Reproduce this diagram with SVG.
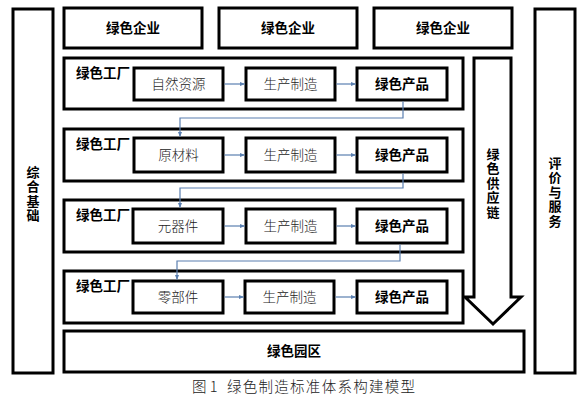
<svg xmlns="http://www.w3.org/2000/svg" width="581" height="406" viewBox="0 0 581 406">
<style>
.box{fill:#fff;stroke:#000;stroke-width:3}
.ibox{fill:#fff;stroke:#000;stroke-width:3}
.b{font-family:"Noto Sans CJK SC","Liberation Sans",sans-serif;font-weight:bold;font-size:13.5px;fill:#000}
.v{font-family:"Noto Sans CJK SC","Liberation Sans",sans-serif;font-weight:bold;font-size:13px;fill:#000;writing-mode:vertical-rl;letter-spacing:1.5px}
.r{font-family:"Noto Sans CJK SC","Liberation Sans",sans-serif;font-weight:300;font-size:13.5px;fill:#222}
.c{fill:none;stroke:#5a7fb0;stroke-width:1.2}
.cap{font-family:"Noto Sans CJK SC",serif;font-weight:300;font-size:14.5px;fill:#222}
</style>
<defs>
<marker id="ah" viewBox="0 0 10 10" refX="9" refY="5" markerWidth="5" markerHeight="5" orient="auto" markerUnits="userSpaceOnUse">
<path d="M0,1 L10,5 L0,9 z" fill="#5a7fb0"/>
</marker>
</defs>
<rect width="581" height="406" fill="#fff"/>
<g id="base"><rect class="box" x="13" y="9" width="40" height="364"/>
<text class="v" x="33" y="165.5">综合基础</text></g>
<g id="eval"><rect class="box" x="535" y="9" width="40" height="364"/>
<text class="v" x="555" y="156.5">评价与服务</text></g>
<g id="ent1"><rect class="box" x="64" y="8" width="138" height="40"/><text class="b" x="133" y="33" text-anchor="middle">绿色企业</text></g>
<g id="ent2"><rect class="box" x="219" y="8" width="138" height="40"/><text class="b" x="288" y="33" text-anchor="middle">绿色企业</text></g>
<g id="ent3"><rect class="box" x="374" y="8" width="138" height="40"/><text class="b" x="443" y="33" text-anchor="middle">绿色企业</text></g>
<g id="chain"><polygon class="box" points="474,58 511,58 511,297 521,297 493,324 465,297 474,297"/>
<text class="v" x="493" y="147.5">绿色供应链</text></g>
<g id="f1"><rect class="box" x="64" y="58" width="399" height="51"/><text class="b" x="76" y="78">绿色工厂</text>
<rect class="ibox" x="134" y="68" width="89" height="32"/><text class="r" x="178.5" y="89" text-anchor="middle">自然资源</text>
<rect class="ibox" x="246" y="68" width="89" height="32"/><text class="r" x="290.5" y="89" text-anchor="middle">生产制造</text>
<rect class="ibox" x="357" y="68" width="90" height="32"/><text class="b" x="402" y="89" text-anchor="middle">绿色产品</text></g>
<g id="f2"><rect class="box" x="64" y="129" width="399" height="52"/><text class="b" x="76" y="149">绿色工厂</text>
<rect class="ibox" x="134" y="138" width="89" height="34"/><text class="r" x="178.5" y="160" text-anchor="middle">原材料</text>
<rect class="ibox" x="246" y="138" width="89" height="34"/><text class="r" x="290.5" y="160" text-anchor="middle">生产制造</text>
<rect class="ibox" x="357" y="138" width="90" height="34"/><text class="b" x="402" y="160" text-anchor="middle">绿色产品</text></g>
<g id="f3"><rect class="box" x="64" y="200" width="399" height="52"/><text class="b" x="76" y="220">绿色工厂</text>
<rect class="ibox" x="133" y="209" width="90" height="34"/><text class="r" x="178" y="231" text-anchor="middle">元器件</text>
<rect class="ibox" x="246" y="209" width="89" height="34"/><text class="r" x="290.5" y="231" text-anchor="middle">生产制造</text>
<rect class="ibox" x="357" y="209" width="90" height="34"/><text class="b" x="402" y="231" text-anchor="middle">绿色产品</text></g>
<g id="f4"><rect class="box" x="64" y="271" width="399" height="52"/><text class="b" x="76" y="291">绿色工厂</text>
<rect class="ibox" x="133" y="281" width="90" height="32"/><text class="r" x="178" y="302" text-anchor="middle">零部件</text>
<rect class="ibox" x="245" y="281" width="89" height="32"/><text class="r" x="289.5" y="302" text-anchor="middle">生产制造</text>
<rect class="ibox" x="357" y="281" width="90" height="32"/><text class="b" x="402" y="302" text-anchor="middle">绿色产品</text></g>
<g id="park"><rect class="box" x="64" y="331" width="460" height="41"/><text class="b" x="294" y="356" text-anchor="middle">绿色园区</text></g>
<g id="connectors">
<path class="c" d="M224.5,84 H244.5" marker-end="url(#ah)"/>
<path class="c" d="M336.5,84 H355.5" marker-end="url(#ah)"/>
<path class="c" d="M224.5,155 H244.5" marker-end="url(#ah)"/>
<path class="c" d="M336.5,155 H355.5" marker-end="url(#ah)"/>
<path class="c" d="M224.5,226 H244.5" marker-end="url(#ah)"/>
<path class="c" d="M336.5,226 H355.5" marker-end="url(#ah)"/>
<path class="c" d="M224.5,297 H243.5" marker-end="url(#ah)"/>
<path class="c" d="M335.5,297 H355.5" marker-end="url(#ah)"/>
<path class="c" d="M403,101.5 V118 H180 V136.5" marker-end="url(#ah)"/>
<path class="c" d="M403,173.5 V188 H180 V207.5" marker-end="url(#ah)"/>
<path class="c" d="M400,244.5 V261 H177 V279.5" marker-end="url(#ah)"/>
</g>
<text class="cap" x="192" y="392">图 1</text>
<text class="cap" x="227" y="392" textLength="188" lengthAdjust="spacing">绿色制造标准体系构建模型</text>
</svg>
